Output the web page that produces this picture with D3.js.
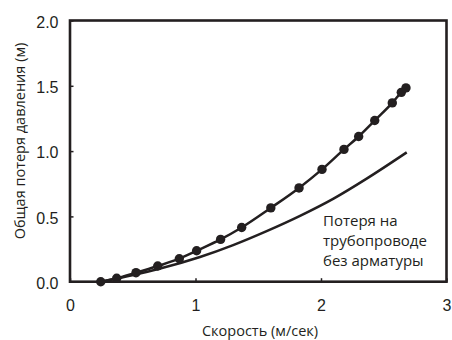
<!DOCTYPE html>
<html>
<head>
<meta charset="utf-8">
<script src="https://cdn.jsdelivr.net/npm/d3@7"></script>
<style>
  html, body { margin: 0; padding: 0; background: #fff; }
  svg { display: block; }
</style>
</head>
<body>
<div id="chart"></div>
<script>
// Measured total pressure loss (with fittings)
const velocity  = [0.245, 0.372, 0.526, 0.699, 0.871, 1.009, 1.2, 1.368, 1.60, 1.825, 2.008, 2.183, 2.30, 2.428, 2.568, 2.64, 2.677];
const totalLoss = [0, 0.026, 0.069, 0.12, 0.176, 0.237, 0.324, 0.415, 0.565, 0.718, 0.86, 1.013, 1.112, 1.234, 1.369, 1.45, 1.484];
// Pipeline loss without fittings
const pipeVelocity = [0.245, 0.505, 0.704, 1.036, 1.30, 1.567, 1.833, 2.10, 2.364, 2.683];
const pipeLoss     = [0, 0.052, 0.097, 0.189, 0.28, 0.387, 0.504, 0.636, 0.789, 0.99];
// Axis ticks
const xTicks = [0, 1, 2, 3];
const xTickLabels = ["0", "1", "2", "3"];
const yTicks = [0, 0.5, 1.0, 1.5, 2.0];
const yTickLabels = ["0.0", "0.5", "1.0", "1.5", "2.0"];
const xTitle = "Скорость (м/сек)";
const yTitle = "Общая потеря давления (м)";
const annotation = ["Потеря на", "трубопроводе", "без арматуры"];

const W = 452, H = 340;
const m = { left: 70, right: 5.5, top: 20.5, bottom: 58.3 };
const ink = "#231f20";

const svg = d3.select("#chart").append("svg").attr("width", W).attr("height", H);

const x = d3.scaleLinear().domain([0, 3]).range([m.left, W - m.right]);
const y = d3.scaleLinear().domain([0, 2]).range([H - m.bottom, m.top]);

// Axes with inward ticks
const xAxis = d3.axisBottom(x).tickValues(xTicks).tickSize(-3.5).tickPadding(18)
  .tickFormat((d, i) => xTickLabels[i]);
const yAxis = d3.axisLeft(y).tickValues(yTicks).tickSize(-3.5).tickPadding(11.5)
  .tickFormat((d, i) => yTickLabels[i]);

const gx = svg.append("g").attr("transform", `translate(0,${y(0)})`).call(xAxis);
const gy = svg.append("g").attr("transform", `translate(${x(0)},0)`).call(yAxis);
[gx, gy].forEach(g => {
  g.select(".domain").remove();
  g.selectAll(".tick line").attr("stroke", ink).attr("stroke-width", 1.5);
  g.selectAll(".tick text").attr("fill", ink)
    .style("font-family", "'Liberation Sans', Arial, sans-serif").style("font-size", "16px");
});
gy.selectAll(".tick text").attr("dy", "0.42em");
gx.selectAll(".tick text").attr("dy", "0.71em");

// Frame
svg.append("rect")
  .attr("x", x(0)).attr("y", y(2))
  .attr("width", x(3) - x(0)).attr("height", y(0) - y(2))
  .attr("fill", "none").attr("stroke", ink).attr("stroke-width", 2.6);

// Curves
const pipeData = pipeVelocity.map((v, i) => [v, pipeLoss[i]]);
const totalData = velocity.map((v, i) => [v, totalLoss[i]]);
const line = d3.line().x(d => x(d[0])).y(d => y(d[1])).curve(d3.curveMonotoneX);

svg.append("path").datum(pipeData).attr("d", line)
  .attr("fill", "none").attr("stroke", ink).attr("stroke-width", 2.5);

svg.append("path").datum(totalData).attr("d", line)
  .attr("fill", "none").attr("stroke", ink).attr("stroke-width", 2.5);

svg.append("g").selectAll("circle").data(totalData).join("circle")
  .attr("cx", d => x(d[0])).attr("cy", d => y(d[1])).attr("r", 4.7).attr("fill", ink);

// Axis titles
const titleFont = "'Open Sans', 'Noto Sans', sans-serif";
svg.append("text").attr("x", 260).attr("y", 335.5).attr("text-anchor", "middle")
  .attr("fill", ink).style("font-family", titleFont).style("font-size", "14.5px").text(xTitle);
svg.append("text").attr("transform", `translate(25,141) rotate(-90)`).attr("text-anchor", "middle")
  .attr("fill", ink).style("font-family", titleFont).style("font-size", "14.5px").text(yTitle);

// Annotation
const ann = svg.append("text").attr("fill", ink).style("font-family", titleFont).style("font-size", "15px");
annotation.forEach((t, i) => {
  ann.append("tspan").attr("x", 323).attr("y", 225.7 + i * 20).text(t);
});
</script>
</body>
</html>
